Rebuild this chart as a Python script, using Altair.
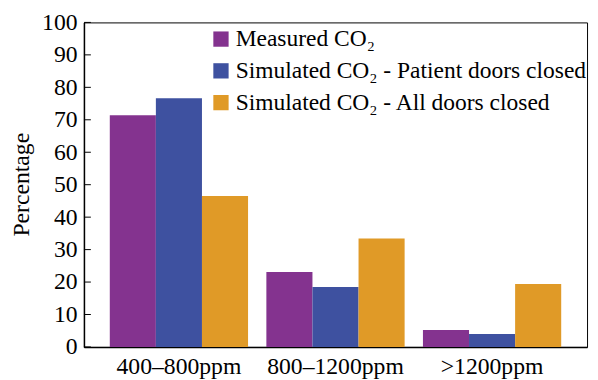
import altair as alt
import pandas as pd

categories = ["400–800ppm", "800–1200ppm", ">1200ppm"]
series = ["Measured CO₂", "Simulated CO₂ - Patient doors closed", "Simulated CO₂ - All doors closed"]
measured = [71.4, 23.1, 5.2]
patient_closed = [76.6, 18.5, 4.0]
all_closed = [46.5, 33.4, 19.4]
colors = ["#84338F", "#3E51A0", "#E09A27"]
y_ticks = list(range(0, 101, 10))

rows = []
for s, vals in zip(series, [measured, patient_closed, all_closed]):
    for c, v in zip(categories, vals):
        rows.append({"cat": c, "series": s, "value": v})
df = pd.DataFrame(rows)
tick_df = pd.DataFrame({"value": y_ticks})

FONT = "Liberation Serif, Times New Roman, serif"

y_axis = alt.Axis(
    values=y_ticks, ticks=False, grid=False, title="Percentage",
    labelFontSize=24, labelColor="black", labelPadding=7,
    domainColor="black", domainWidth=1.5,
    titleFontSize=24, titleFontWeight="normal", titleColor="black",
    titleX=-56, titleY=164, titleBaseline="alphabetic", titleAngle=270,
)
y_enc = alt.Y("value:Q", scale=alt.Scale(domain=[0, 100], nice=False), axis=y_axis)

bars = alt.Chart(df).mark_bar().encode(
    x=alt.X(
        "cat:N", sort=categories,
        scale=alt.Scale(paddingInner=0.117, paddingOuter=0.165),
        axis=alt.Axis(title=None, labelAngle=0, ticks=False, labelPadding=8,
                      labelFontSize=24, labelColor="black",
                      domainColor="black", domainWidth=1.5),
    ),
    xOffset=alt.XOffset("series:N", sort=series, scale=alt.Scale(paddingInner=0, paddingOuter=0)),
    y=y_enc,
    color=alt.Color(
        "series:N", sort=series,
        scale=alt.Scale(domain=series, range=colors),
        legend=alt.Legend(
            title=None, orient="none", legendX=127, legendY=5,
            symbolType="square", symbolSize=240, symbolStrokeWidth=0,
            labelFontSize=23.8, labelColor="black",
            labelOffset=3, rowPadding=7.2, padding=0, labelLimit=500,
        ),
    ),
)

ticks = alt.Chart(tick_df).mark_rule(color="black", strokeWidth=1).encode(
    y=y_enc, x=alt.value(0), x2=alt.value(7)
)

chart = alt.layer(bars, ticks).properties(
    width=510, height=329,
    autosize=alt.AutoSizeParams(type="none"),
    padding={"left": 77, "top": 12, "right": 3, "bottom": 40},
).configure(
    font=FONT
).configure_axis(
    labelFont=FONT, titleFont=FONT
).configure_legend(
    labelFont=FONT
).configure_view(stroke="black", strokeWidth=1)

chart.save("out.html", embed_options={"renderer": "svg", "actions": False})
